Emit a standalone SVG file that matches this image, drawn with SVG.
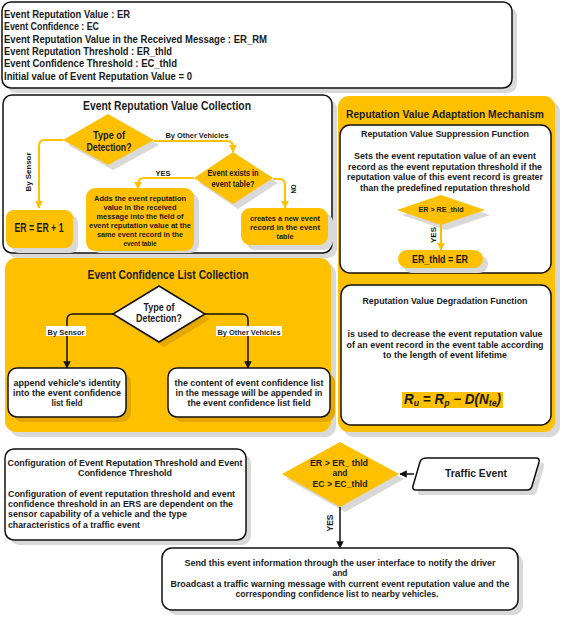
<svg xmlns="http://www.w3.org/2000/svg" width="566" height="618" viewBox="0 0 566 618">
<defs>
<style>
text{font-family:"Liberation Sans",Arial,sans-serif;font-weight:bold;fill:#1a1a1a}
.m{text-anchor:middle}
.sh{fill:#d9d9d9}
.wb{fill:#fff;stroke:#111;stroke-width:1.5}
.yb{fill:#ffc000}
.yl{fill:none;stroke:#ffc000;stroke-width:2}
.bl{fill:none;stroke:#111;stroke-width:1.5}
</style>
<marker id="ay" viewBox="0 0 10 10" refX="9" refY="5" markerWidth="4" markerHeight="4" orient="auto"><path d="M0,0L10,5L0,10z" fill="#ffc000"/></marker>
<marker id="ab" viewBox="0 0 10 10" refX="9" refY="5" markerWidth="5" markerHeight="5" orient="auto"><path d="M0,0L10,5L0,10z" fill="#111"/></marker>
</defs>
<rect width="566" height="618" fill="#fff"/>

<g id="legend">
<rect class="sh" x="7" y="7" width="510" height="86" rx="9"/>
<rect class="wb" x="2" y="2" width="510" height="86" rx="9"/>
<g font-size="10.5">
<text x="4" y="18" textLength="126" lengthAdjust="spacingAndGlyphs">Event Reputation Value : ER</text>
<text x="4" y="30" textLength="95" lengthAdjust="spacingAndGlyphs">Event Confidence : EC</text>
<text x="4" y="43" textLength="263" lengthAdjust="spacingAndGlyphs">Event Reputation Value in the Received Message : ER_RM</text>
<text x="4" y="55" textLength="168" lengthAdjust="spacingAndGlyphs">Event Reputation Threshold : ER_thld</text>
<text x="4" y="67" textLength="173" lengthAdjust="spacingAndGlyphs">Event Confidence Threshold : EC_thld</text>
<text x="4" y="80" textLength="188" lengthAdjust="spacingAndGlyphs">Initial value of Event Reputation Value = 0</text>
</g>
</g>

<g id="erv-collection">
<rect class="sh" x="8" y="100" width="329" height="158" rx="9"/>
<rect class="wb" x="3" y="95" width="329" height="158" rx="9"/>
<text class="m" x="167" y="110" font-size="12.5" textLength="168" lengthAdjust="spacingAndGlyphs">Event Reputation Value Collection</text>
</g>

<g id="erv-type">
<path class="sh" d="M113,119 L159,145 L113,170 L68,145z"/>
<path class="yb" d="M108,114 L154,140 L108,165 L63,140z"/>
<text class="m" x="109" y="139" font-size="11" textLength="32" lengthAdjust="spacingAndGlyphs">Type of</text>
<text class="m" x="109" y="151" font-size="11" textLength="45" lengthAdjust="spacingAndGlyphs">Detection?</text>
</g>

<g id="erv-exists">
<path class="sh" d="M238,157 L278,183 L238,209 L199,183z"/>
<path class="yb" d="M233,152 L273,178 L233,204 L194,178z"/>
<text class="m" x="233" y="176" font-size="8.5" textLength="51" lengthAdjust="spacingAndGlyphs">Event exists in</text>
<text class="m" x="233" y="187" font-size="8.5" textLength="43" lengthAdjust="spacingAndGlyphs">event table?</text>
</g>

<g id="erv-sensor">
<rect class="sh" x="11" y="215" width="67" height="38" rx="8"/>
<rect class="yb" x="6" y="210" width="67" height="38" rx="8"/>
<text class="m" x="39" y="232" font-size="12" textLength="49" lengthAdjust="spacingAndGlyphs">ER = ER + 1</text>
</g>

<g id="erv-add">
<rect class="sh" x="91" y="193" width="108" height="60" rx="9"/>
<rect class="yb" x="86" y="188" width="108" height="63" rx="9"/>
<g font-size="7.8">
<text class="m" x="140" y="201" textLength="92" lengthAdjust="spacingAndGlyphs">Adds the event reputation</text>
<text class="m" x="140" y="210" textLength="73" lengthAdjust="spacingAndGlyphs">value in the received</text>
<text class="m" x="140" y="219" textLength="87" lengthAdjust="spacingAndGlyphs">message into the field of</text>
<text class="m" x="140" y="228" textLength="102" lengthAdjust="spacingAndGlyphs">event reputation value at the</text>
<text class="m" x="140" y="237" textLength="86" lengthAdjust="spacingAndGlyphs">same event record in the</text>
<text class="m" x="140" y="246" textLength="33" lengthAdjust="spacingAndGlyphs">event table</text>
</g>
</g>

<g id="erv-new">
<rect class="sh" x="246" y="213" width="87" height="37" rx="9"/>
<rect class="yb" x="241" y="208" width="87" height="37" rx="9"/>
<g font-size="8">
<text class="m" x="285" y="221" textLength="70" lengthAdjust="spacingAndGlyphs">creates a new event</text>
<text class="m" x="285" y="230" textLength="70" lengthAdjust="spacingAndGlyphs">record in the event</text>
<text class="m" x="285" y="239" textLength="17" lengthAdjust="spacingAndGlyphs">table</text>
</g>
</g>

<g id="adaptation">
<rect class="sh" x="343" y="101" width="217" height="336" rx="11"/>
<rect class="yb" x="338" y="96" width="217" height="336" rx="11"/>
<text class="m" x="445" y="118" font-size="11" textLength="198" lengthAdjust="spacingAndGlyphs">Reputation Value Adaptation Mechanism</text>
</g>

<g id="suppression">
<rect class="wb" x="340" y="125" width="211" height="148" rx="10"/>
<text class="m" x="445" y="137" font-size="9.5" textLength="168" lengthAdjust="spacingAndGlyphs">Reputation Value Suppression Function</text>
<g font-size="9.5">
<text class="m" x="445" y="159" textLength="182" lengthAdjust="spacingAndGlyphs">Sets the event reputation value of an event</text>
<text class="m" x="445" y="170" textLength="194" lengthAdjust="spacingAndGlyphs">record as the event reputation threshold if the</text>
<text class="m" x="445" y="180" textLength="196" lengthAdjust="spacingAndGlyphs">reputation value of this event record is greater</text>
<text class="m" x="445" y="191" textLength="170" lengthAdjust="spacingAndGlyphs">than the predefined reputation threshold</text>
</g>
</g>

<g id="supp-cond">
<path class="sh" d="M446,200 L490,215 L446,230 L402,215z"/>
<path class="yb" d="M441,195 L485,210 L441,225 L397,210z"/>
<text class="m" x="441" y="212" font-size="8" textLength="45" lengthAdjust="spacingAndGlyphs">ER &gt; RE_thld</text>
</g>

<g id="supp-set">
<rect class="sh" x="403" y="255" width="85" height="18" rx="9"/>
<rect class="yb" x="398" y="250" width="85" height="18" rx="9"/>
<text class="m" x="440" y="263" font-size="10.5" textLength="56" lengthAdjust="spacingAndGlyphs">ER_thld = ER</text>
</g>

<g id="degradation">
<rect class="wb" x="341" y="285" width="210" height="140" rx="10"/>
<text class="m" x="445" y="304" font-size="9.5" textLength="165" lengthAdjust="spacingAndGlyphs">Reputation Value Degradation Function</text>
<g font-size="9.5">
<text class="m" x="445" y="337" textLength="195" lengthAdjust="spacingAndGlyphs">is used to decrease the event reputation value</text>
<text class="m" x="445" y="348" textLength="197" lengthAdjust="spacingAndGlyphs">of an event record in the event table according</text>
<text class="m" x="445" y="358" textLength="124" lengthAdjust="spacingAndGlyphs">to the length of event lifetime</text>
</g>
<rect class="yb" x="402" y="392" width="101" height="16"/>
<text x="404" y="404" font-family="'Liberation Serif',serif" font-style="italic" font-size="14" textLength="97" lengthAdjust="spacingAndGlyphs">R<tspan font-size="9" dy="2">u</tspan><tspan dy="-2"> = R</tspan><tspan font-size="9" dy="2">p</tspan><tspan dy="-2"> − D(N</tspan><tspan font-size="9" dy="2">te</tspan><tspan dy="-2">)</tspan></text>
</g>

<g id="ecl-collection">
<rect class="sh" x="10" y="263" width="326" height="174" rx="11"/>
<rect class="yb" x="5" y="258" width="326" height="174" rx="11"/>
<text class="m" x="168" y="279" font-size="12.5" textLength="161" lengthAdjust="spacingAndGlyphs">Event Confidence List Collection</text>
</g>

<g id="ecl-type">
<path d="M164,291 L210,319 L164,347 L118,319z" fill="#e6a800"/>
<path d="M159,286 L205,314 L159,342 L113,314z" fill="#fff" stroke="#111" stroke-width="1.5"/>
<text class="m" x="159" y="311" font-size="10.5" textLength="31" lengthAdjust="spacingAndGlyphs">Type of</text>
<text class="m" x="159" y="322" font-size="10.5" textLength="46" lengthAdjust="spacingAndGlyphs">Detection?</text>
</g>

<g id="ecl-sensor">
<rect x="13" y="373" width="118" height="49" rx="9" fill="#e6a800"/>
<rect class="wb" x="8" y="368" width="118" height="49" rx="9"/>
<g font-size="9.5">
<text class="m" x="67" y="386" textLength="107" lengthAdjust="spacingAndGlyphs">append vehicle's identity</text>
<text class="m" x="67" y="396" textLength="108" lengthAdjust="spacingAndGlyphs">into the event confidence</text>
<text class="m" x="67" y="406" textLength="31" lengthAdjust="spacingAndGlyphs">list field</text>
</g>
</g>

<g id="ecl-other">
<rect x="173" y="373" width="162" height="49" rx="9" fill="#e6a800"/>
<rect class="wb" x="168" y="368" width="162" height="49" rx="9"/>
<g font-size="9.5">
<text class="m" x="249" y="386" textLength="149" lengthAdjust="spacingAndGlyphs">the content of event confidence list</text>
<text class="m" x="249" y="396" textLength="147" lengthAdjust="spacingAndGlyphs">in the message will be appended in</text>
<text class="m" x="249" y="406" textLength="123" lengthAdjust="spacingAndGlyphs">the event confidence list field</text>
</g>
</g>

<g id="config">
<rect class="sh" x="10" y="454" width="241" height="91" rx="9"/>
<rect class="wb" x="5" y="449" width="241" height="91" rx="9"/>
<g font-size="9.5">
<text class="m" x="125" y="466" textLength="235" lengthAdjust="spacingAndGlyphs">Configuration of Event Reputation Threshold and Event</text>
<text class="m" x="125" y="476" textLength="94" lengthAdjust="spacingAndGlyphs">Confidence Threshold</text>
<text x="8" y="497" textLength="227" lengthAdjust="spacingAndGlyphs">Configuration of event reputation threshold and event</text>
<text x="8" y="507" textLength="225" lengthAdjust="spacingAndGlyphs">confidence threshold in an ERS are dependent on the</text>
<text x="8" y="517" textLength="179" lengthAdjust="spacingAndGlyphs">sensor capability of a vehicle and the type</text>
<text x="8" y="528" textLength="132" lengthAdjust="spacingAndGlyphs">characteristics of a traffic event</text>
</g>
</g>

<g id="threshold-check">
<path class="sh" d="M345,447 L404,479 L345,512 L287,479z"/>
<path class="yb" d="M340,442 L399,474 L340,507 L282,474z"/>
<g font-size="9.5">
<text class="m" x="339" y="466" textLength="58" lengthAdjust="spacingAndGlyphs">ER &gt; ER_ thld</text>
<text class="m" x="340" y="476" textLength="15" lengthAdjust="spacingAndGlyphs">and</text>
<text class="m" x="340" y="487" textLength="55" lengthAdjust="spacingAndGlyphs">EC &gt; EC_thld</text>
</g>
</g>

<g id="traffic-event">
<path class="sh" d="M432,463 H541 Q545,463 544,467 L537,491 Q536,495 532,495 H421 Q417,495 418,491 L425,467 Q426,463 432,463z"/>
<path class="wb" d="M427,458 H536 Q540,458 539,462 L532,486 Q531,490 527,490 H416 Q412,490 413,486 L420,462 Q421,458 427,458z"/>
<text class="m" x="476" y="477" font-size="11" textLength="62" lengthAdjust="spacingAndGlyphs">Traffic Event</text>
</g>

<g id="notify">
<rect class="sh" x="167" y="553" width="356" height="62" rx="10"/>
<rect class="wb" x="162" y="548" width="356" height="62" rx="10"/>
<g font-size="9">
<text class="m" x="340" y="566" textLength="311" lengthAdjust="spacingAndGlyphs">Send this event information through the user interface to notify the driver</text>
<text class="m" x="340" y="576" textLength="15" lengthAdjust="spacingAndGlyphs">and</text>
<text class="m" x="340" y="587" textLength="339" lengthAdjust="spacingAndGlyphs">Broadcast a traffic warning message with current event reputation value and the</text>
<text class="m" x="337" y="597" textLength="203" lengthAdjust="spacingAndGlyphs">corresponding confidence list to nearby vehicles.</text>
</g>
</g>

<g id="connectors">
<path class="yl" d="M63,140 H45 Q39,140 39,146 V208" marker-end="url(#ay)"/>
<path class="yl" d="M154,141 H227 Q233,141 233,147 V152" marker-end="url(#ay)"/>
<path class="yl" d="M194,178 H144 Q138,178 138,184 V189" marker-end="url(#ay)"/>
<path class="yl" d="M273,179 H279 Q285,179 285,185 V208" marker-end="url(#ay)"/>
<path class="yl" d="M441,225 V250" marker-end="url(#ay)"/>
<path class="bl" d="M113,314 H73 Q67,314 67,320 V368" marker-end="url(#ab)"/>
<path class="bl" d="M205,314 H242 Q248,314 248,320 V368" marker-end="url(#ab)"/>
<path class="bl" d="M340,507 V548" marker-end="url(#ab)"/>
<path class="bl" d="M414,474 H400" marker-end="url(#ab)"/>
<g font-size="8">
<text class="m" x="197" y="138" textLength="63" lengthAdjust="spacingAndGlyphs">By Other Vehicles</text>
<text class="m" transform="translate(31,172) rotate(-90)" textLength="39" lengthAdjust="spacingAndGlyphs">By Sensor</text>
<text class="m" x="163" y="176" textLength="15" lengthAdjust="spacingAndGlyphs">YES</text>
<text class="m" transform="translate(296,189) rotate(-90)" textLength="9" lengthAdjust="spacingAndGlyphs">NO</text>
<text class="m" transform="translate(436,235) rotate(-90)" textLength="16" lengthAdjust="spacingAndGlyphs">YES</text>
<text class="m" transform="translate(333,523) rotate(-90)" font-size="9" textLength="17" lengthAdjust="spacingAndGlyphs">YES</text>
<rect x="46" y="326" width="40" height="10" fill="#fff"/>
<text class="m" x="66" y="335" textLength="37" lengthAdjust="spacingAndGlyphs">By Sensor</text>
<rect x="216" y="326" width="66" height="10" fill="#fff"/>
<text class="m" x="249" y="335" textLength="63" lengthAdjust="spacingAndGlyphs">By Other Vehicles</text>
</g>
</g>
</svg>
